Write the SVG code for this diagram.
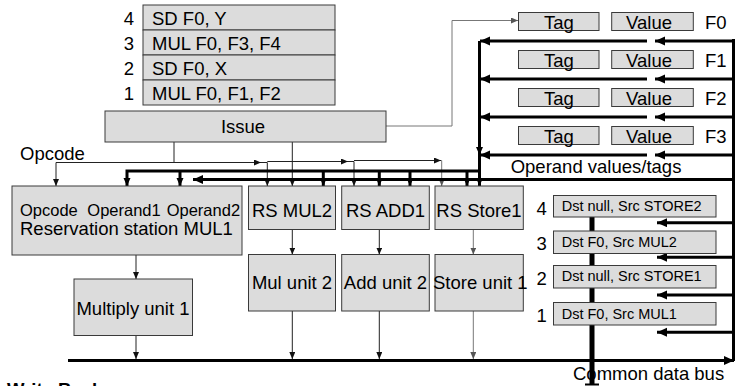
<svg xmlns="http://www.w3.org/2000/svg" width="736" height="386" viewBox="0 0 736 386">
<defs>
<style>
.b{fill:#dcdcdc;stroke:#3a3a3a;stroke-width:1}
text{font-family:"Liberation Sans",Arial,sans-serif;fill:#000}
.t{font-size:18.5px}
.m{text-anchor:middle}
.e{text-anchor:end}
.s{font-size:14.5px}
.thin{fill:none;stroke:#222;stroke-width:1}
.gray{fill:none;stroke:#777;stroke-width:1}
.thick{fill:none;stroke:#000;stroke-width:3}
</style>
<marker id="a" markerUnits="userSpaceOnUse" markerWidth="8" markerHeight="8" refX="7" refY="3" orient="auto"><path d="M0,0 L7,3 L0,6 z" fill="#111"/></marker>
<marker id="ag" markerUnits="userSpaceOnUse" markerWidth="8" markerHeight="8" refX="7" refY="3" orient="auto"><path d="M0,0 L7,3 L0,6 z" fill="#555"/></marker>
<marker id="A" markerUnits="userSpaceOnUse" markerWidth="12" markerHeight="10" refX="10" refY="4.5" orient="auto"><path d="M0,0 L10,4.5 L0,9 z" fill="#000"/></marker>
<marker id="As" markerUnits="userSpaceOnUse" markerWidth="10" markerHeight="8" refX="8" refY="3.5" orient="auto"><path d="M0,0 L8,3.5 L0,7 z" fill="#000"/></marker>
</defs>
<rect width="736" height="386" fill="#fff"/>

<g id="connectors">
<!-- thin control lines -->
<path class="thin" d="M174,142 V162.5 H56 V186" marker-end="url(#a)"/>
<path class="thin" d="M174,162.5 H261" marker-end="url(#a)"/>
<path class="thin" d="M261,162.5 H267.3 V186" marker-end="url(#a)"/>
<path class="thin" d="M267.3,161.5 H348" marker-end="url(#a)"/>
<path class="thin" d="M348,161.5 H354 V186" marker-end="url(#a)"/>
<path class="thin" d="M354,160.5 H441" marker-end="url(#a)"/>
<path class="gray" d="M441,160.5 H441.7 V186" marker-end="url(#ag)"/>
<path class="thin" d="M292.3,142 V186" marker-end="url(#a)"/>
<path class="gray" d="M386,126 H452 V20.5 H518" marker-end="url(#ag)"/>
<path class="thin" d="M136,255 V279" marker-end="url(#a)"/>
<path class="thin" d="M136,335.5 V359" marker-end="url(#a)"/>
<path class="thin" d="M292.3,229.5 V254.5" marker-end="url(#a)"/>
<path class="thin" d="M292.3,311 V359" marker-end="url(#a)"/>
<path class="thin" d="M379.3,229.5 V254.5" marker-end="url(#a)"/>
<path class="thin" d="M379.3,311 V359" marker-end="url(#a)"/>
<path class="gray" d="M473.3,229.5 V254.5" marker-end="url(#ag)"/>
<path class="gray" d="M473.3,311 V359" marker-end="url(#ag)"/>
<!-- operand values/tags bus -->
<path class="thick" d="M479.5,41 V155" marker-end="url(#As)"/>
<path class="thick" d="M479.5,153 V186" marker-end="url(#As)"/>
<path class="thick" d="M479.5,171 H127 V186" marker-end="url(#As)"/>
<path class="thick" d="M180,171 V186" marker-end="url(#As)"/>
<path class="thick" d="M323.3,171 V186" marker-end="url(#As)"/>
<path class="thick" d="M379.3,171 V186" marker-end="url(#As)"/>
<path class="thick" d="M410,171 V186" marker-end="url(#As)"/>
<path class="thick" d="M467,171 V186" marker-end="url(#As)"/>
<path class="thick" d="M733.5,179.5 H193" marker-end="url(#A)"/>
<!-- register outputs -->
<path class="thick" d="M647,41 H480" marker-end="url(#A)"/>
<path class="thick" d="M647,79 H480" marker-end="url(#A)"/>
<path class="thick" d="M647,117 H480" marker-end="url(#A)"/>
<path class="thick" d="M647,155 H480" marker-end="url(#A)"/>
<!-- CDB to registers -->
<path class="thick" d="M733.5,41 H655" marker-end="url(#A)"/>
<path class="thick" d="M733.5,79 H655" marker-end="url(#A)"/>
<path class="thick" d="M733.5,117 H655" marker-end="url(#A)"/>
<path class="thick" d="M733.5,155 H655" marker-end="url(#A)"/>
<!-- CDB to ROB -->
<path class="thick" d="M733.5,222.7 H657" marker-end="url(#A)"/>
<path class="thick" d="M733.5,257.3 H657" marker-end="url(#A)"/>
<path class="thick" d="M733.5,295 H657" marker-end="url(#A)"/>
<path class="thick" d="M733.5,332.3 H657" marker-end="url(#A)"/>
<!-- common data bus -->
<path class="thick" d="M733.5,361 V39"/>
<path class="thick" d="M68,360.5 H734" marker-end="url(#A)"/>
<!-- ROB spine -->
<path d="M592,210 V384" stroke="#000" stroke-width="5" fill="none"/>
<path d="M585,384.5 H599" stroke="#000" stroke-width="2" fill="none"/>
</g>

<g id="instruction-queue">
<rect class="b" x="143" y="5" width="192" height="25"/>
<rect class="b" x="143" y="30" width="192" height="25"/>
<rect class="b" x="143" y="55" width="192" height="25"/>
<rect class="b" x="143" y="80" width="192" height="25"/>
<text class="t e" x="134" y="24.5">4</text>
<text class="t e" x="134" y="49.5">3</text>
<text class="t e" x="134" y="74.5">2</text>
<text class="t e" x="134" y="99.5">1</text>
<text class="t" x="152" y="24.5">SD F0, Y</text>
<text class="t" x="152" y="49.5">MUL F0, F3, F4</text>
<text class="t" x="152" y="74.5">SD F0, X</text>
<text class="t" x="152" y="99.5">MUL F0, F1, F2</text>
</g>

<g id="issue">
<rect class="b" x="105" y="111" width="281" height="31"/>
<text class="t m" x="243" y="133">Issue</text>
</g>

<g id="reg-F0">
<rect class="b" x="518.5" y="12.5" width="80.5" height="18"/>
<rect class="b" x="611.7" y="12.5" width="81.6" height="18"/>
<text class="t m" x="558.8" y="28.5">Tag</text>
<text class="t m" x="649" y="28.5">Value</text>
<text class="t" x="705" y="28.5">F0</text>
</g>
<g id="reg-F1">
<rect class="b" x="518.5" y="50.5" width="80.5" height="18"/>
<rect class="b" x="611.7" y="50.5" width="81.6" height="18"/>
<text class="t m" x="558.8" y="66.5">Tag</text>
<text class="t m" x="649" y="66.5">Value</text>
<text class="t" x="705" y="66.5">F1</text>
</g>
<g id="reg-F2">
<rect class="b" x="518.5" y="88.5" width="80.5" height="18"/>
<rect class="b" x="611.7" y="88.5" width="81.6" height="18"/>
<text class="t m" x="558.8" y="104.5">Tag</text>
<text class="t m" x="649" y="104.5">Value</text>
<text class="t" x="705" y="104.5">F2</text>
</g>
<g id="reg-F3">
<rect class="b" x="518.5" y="126.5" width="80.5" height="18"/>
<rect class="b" x="611.7" y="126.5" width="81.6" height="18"/>
<text class="t m" x="558.8" y="142.5">Tag</text>
<text class="t m" x="649" y="142.5">Value</text>
<text class="t" x="705" y="142.5">F3</text>
</g>

<g id="rs-mul1">
<rect class="b" x="12" y="186" width="230" height="69"/>
<text x="20" y="216" style="font-size:16.5px">Opcode</text>
<text x="87.3" y="216" style="font-size:16.5px">Operand1</text>
<text x="166.7" y="216" style="font-size:16.5px">Operand2</text>
<text class="t" x="20" y="235">Reservation station MUL1</text>
</g>
<g id="multiply-unit1">
<rect class="b" x="74" y="279" width="118.5" height="56.5"/>
<text class="t m" x="133" y="315">Multiply unit 1</text>
</g>
<g id="rs-mul2">
<rect class="b" x="248.5" y="186" width="87" height="43.5"/>
<text class="t m" x="292" y="216.5">RS MUL2</text>
</g>
<g id="mul-unit2">
<rect class="b" x="248.5" y="254.5" width="87" height="56.5"/>
<text class="t m" x="292" y="289">Mul unit 2</text>
</g>
<g id="rs-add1">
<rect class="b" x="341.7" y="186" width="87.6" height="43.5"/>
<text class="t m" x="385.5" y="216.5">RS ADD1</text>
</g>
<g id="add-unit2">
<rect class="b" x="341.7" y="254.5" width="87.6" height="56.5"/>
<text class="t m" x="385.5" y="289">Add unit 2</text>
</g>
<g id="rs-store1">
<rect class="b" x="435" y="186" width="88.3" height="43.5"/>
<text class="t m" x="479" y="216.5">RS Store1</text>
</g>
<g id="store-unit1">
<rect class="b" x="435" y="254.5" width="88.3" height="56.5"/>
<text class="t" x="433" y="289">Store unit 1</text>
</g>

<g id="rob-4">
<rect class="b" x="553.5" y="195.5" width="162.5" height="21.5"/>
<text class="t m" x="541.7" y="215">4</text>
<text class="s" x="561.7" y="211">Dst null, Src STORE2</text>
</g>
<g id="rob-3">
<rect class="b" x="553.5" y="231" width="162.5" height="22.5"/>
<text class="t m" x="541.7" y="250">3</text>
<text class="s" x="561.7" y="246.5">Dst F0, Src MUL2</text>
</g>
<g id="rob-2">
<rect class="b" x="553.5" y="265.5" width="162.5" height="22.5"/>
<text class="t m" x="541.7" y="285">2</text>
<text class="s" x="561.7" y="281">Dst null, Src STORE1</text>
</g>
<g id="rob-1">
<rect class="b" x="553.5" y="302.5" width="162.5" height="22.5"/>
<text class="t m" x="541.7" y="321.5">1</text>
<text class="s" x="561.7" y="318.5">Dst F0, Src MUL1</text>
</g>

<g id="labels">
<text class="t" x="20" y="160">Opcode</text>
<text class="t" x="510.7" y="173">Operand values/tags</text>
<text class="t" x="573" y="380">Common data bus</text>
<text class="t" x="7" y="396" style="font-weight:bold">Write Back</text>
</g>
</svg>
